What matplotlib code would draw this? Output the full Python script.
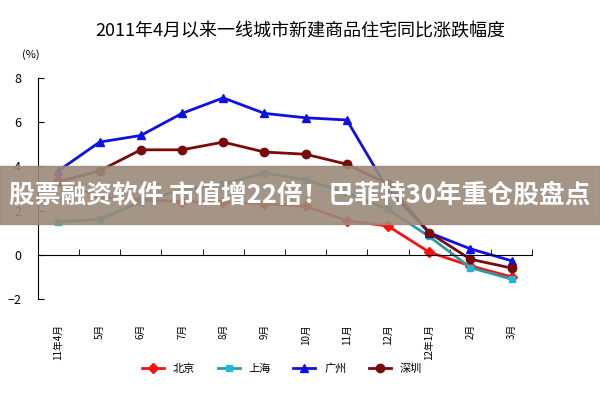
import matplotlib.pyplot as plt
import numpy as np

plt.rcParams['font.family'] = ['Noto Sans CJK SC', 'DejaVu Sans']

months = ["11年4月", "5月", "6月", "7月", "8月", "9月", "10月", "11月", "12月", "12年1月", "2月", "3月"]
beijing = [3.4, 2.6, 2.5, 2.4, 2.4, 2.3, 2.2, 1.55, 1.3, 0.12, -0.5, -1.0]
shanghai = [1.5, 1.6, 2.4, 2.95, 3.2, 3.7, 3.4, 2.8, 2.05, 0.83, -0.58, -1.1]
guangzhou = [3.8, 5.1, 5.4, 6.4, 7.1, 6.4, 6.2, 6.1, 2.95, 1.0, 0.27, -0.27]
shenzhen = [3.3, 3.8, 4.75, 4.75, 5.1, 4.65, 4.55, 4.1, 3.2, 1.0, -0.2, -0.6]

fig = plt.figure(figsize=(6, 4), dpi=100)
ax = fig.add_axes([0.063, 0.2525, 0.824, 0.5525])
x = np.arange(len(months))
ax.plot(x, beijing, color='#ff1010', marker='D', ms=5, lw=2, label='北京')
ax.plot(x, shanghai, color='#2a9aa8', marker='s', ms=5, lw=2, label='上海', mfc='#20b8d8', mec='#20b8d8')
ax.plot(x, guangzhou, color='#1010e0', marker='^', ms=6, lw=2, label='广州')
ax.plot(x, shenzhen, color='#7a0a0a', marker='o', ms=6, lw=2, label='深圳')

ax.set_xlim(-0.5, 11.5)
ax.set_ylim(-2, 8)
ax.set_yticks([-2, 0, 2, 4, 6, 8])
ax.tick_params(axis='y', labelsize=9, direction='in', length=4, pad=12)
for s in ['top', 'right']:
    ax.spines[s].set_visible(False)
ax.spines['bottom'].set_position(('data', 0))
ax.set_xticks(x)
ax.set_xticklabels(months, rotation=90, fontsize=7)
ax.tick_params(axis='x', which='major', length=0, pad=50)
ax.set_xticks(np.arange(-0.5, 11.6, 1), minor=True)
ax.tick_params(axis='x', which='minor', direction='in', length=4)
fig.text(0.037, 0.855, '(%)', fontsize=8)

fig.suptitle('2011年4月以来一线城市新建商品住宅同比涨跌幅度', fontsize=13, y=0.945)
fig.legend(loc='lower center', ncol=4, frameon=False, fontsize=8, bbox_to_anchor=(0.47, 0.04))

# banner overlay
fig.patches.append(plt.Rectangle((0, 0.44), 1, 0.145, transform=fig.transFigure,
                                 color='#9a8a7a', alpha=0.9, zorder=5))
fig.text(0.5, 0.512, '股票融资软件 市值增22倍！巴菲特30年重仓股盘点', ha='center', va='center',
         fontsize=18.5, fontweight='bold', color='white', zorder=6)

fig.savefig('out.png', dpi=100)
